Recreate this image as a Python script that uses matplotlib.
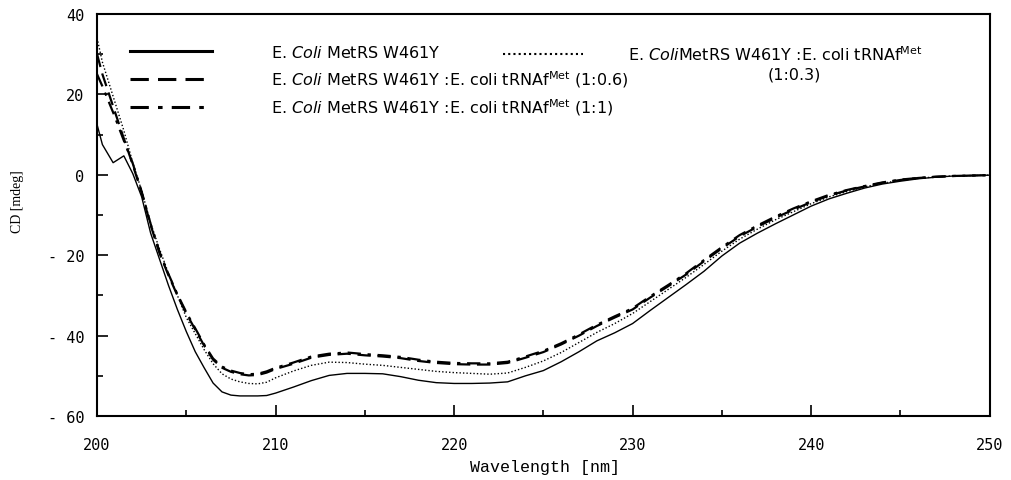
import matplotlib
matplotlib.use("Agg")
import matplotlib.pyplot as plt
from matplotlib.ticker import MultipleLocator

plt.rcParams['mathtext.fontset'] = 'dejavusans'

# wavelength grid (nm)
wl = [200, 200.3, 200.9, 201.5, 202, 202.5, 203, 203.5, 204, 204.5, 205, 205.5, 206, 206.5,
      207, 207.5, 208, 208.5, 209, 209.5, 210, 211, 212, 213, 214, 215, 216, 217, 218, 219,
      220, 221, 222, 223, 224, 225, 226, 227, 228, 229, 230, 231, 232, 233, 234, 235, 236,
      237, 238, 239, 240, 241, 242, 243, 244, 245, 246, 247, 248, 249, 250]

# E. coli MetRS W461Y alone
cd_enzyme = [12.5, 7.5, 3.0, 4.7, 0.3, -5.5, -14.5, -21, -27.5, -33.5, -39, -44, -48, -51.8,
             -54, -54.8, -55, -55, -55, -54.9, -54.3, -52.8, -51.2, -49.9, -49.4, -49.4, -49.5,
             -50.2, -51.1, -51.7, -51.9, -51.9, -51.8, -51.5, -50, -48.7, -46.5, -44, -41.3,
             -39.3, -37, -33.7, -30.5, -27.3, -24, -20.2, -17, -14.5, -12.2, -10, -7.8, -6,
             -4.6, -3.3, -2.3, -1.6, -1.0, -0.6, -0.3, -0.2, -0.1]

# 1:0.3
cd_03 = [34, 28, 19.5, 11, 3, -4, -12, -18.5, -24.5, -30, -35.5, -39.5, -43.5, -47,
         -49.5, -50.8, -51.5, -51.9, -52, -51.6, -50.5, -48.8, -47.4, -46.6, -46.7, -47.1, -47.4,
         -47.9, -48.4, -48.9, -49.2, -49.4, -49.6, -49.3, -47.9, -46.3, -44.2, -41.7, -39.2,
         -37, -34.5, -31.5, -28.5, -25.5, -22.3, -19, -16, -13.5, -11.2, -9.2, -7.2, -5.5,
         -4.2, -3.0, -2.1, -1.4, -0.9, -0.5, -0.3, -0.2, -0.1]

# 1:0.6
cd_06 = [30, 25, 17, 9, 2.5, -4.5, -12.5, -19.5, -25, -30, -34.5, -38.5, -42.5, -46,
         -48, -49, -49.6, -49.9, -49.8, -49.2, -48.3, -47, -45.5, -44.8, -44.5, -44.9, -45.2,
         -45.6, -46.3, -46.8, -47.1, -47.2, -47.2, -46.8, -45.5, -44.1, -42.2, -40, -37.6,
         -35.5, -33.5, -30.5, -27.7, -24.8, -21.5, -18.3, -15.3, -12.9, -10.7, -8.7, -6.8, -5.2,
         -3.9, -2.9, -2.0, -1.3, -0.8, -0.5, -0.3, -0.2, -0.1]

# 1:1
cd_1 = [25, 22, 15.5, 8.5, 2.8, -4.2, -12.2, -19.2, -24.7, -29.7, -34.2, -38.2, -42.2, -45.7,
        -47.7, -48.7, -49.3, -49.6, -49.5, -48.9, -48.0, -46.7, -45.2, -44.5, -44.2, -44.6, -44.9,
        -45.3, -46.0, -46.5, -46.8, -46.9, -46.9, -46.5, -45.2, -43.8, -41.9, -39.7, -37.3,
        -35.2, -33.2, -30.2, -27.4, -24.5, -21.2, -18.0, -15.0, -12.6, -10.4, -8.4, -6.6, -5.0,
        -3.8, -2.8, -1.9, -1.2, -0.8, -0.5, -0.3, -0.2, -0.1]

xticks = [200, 210, 220, 230, 240, 250]
xlabels = ['200', '210', '220', '230', '240', '250']
yticks = [-60, -40, -20, 0, 20, 40]
ylabels = ['- 60', '- 40', '- 20', '0', '20', '40']

lab_enzyme = r'E. $\it{Coli}$ MetRS W461Y'
lab_03 = r'E. $\it{Coli}$MetRS W461Y :E. coli tRNAf$^{\rm Met}$'
lab_06 = r'E. $\it{Coli}$ MetRS W461Y :E. coli tRNAf$^{\rm Met}$ (1:0.6)'
lab_1 = r'E. $\it{Coli}$ MetRS W461Y :E. coli tRNAf$^{\rm Met}$ (1:1)'

fig = plt.figure(figsize=(10.12, 4.81), dpi=100)
ax = fig.add_axes([0.0959, 0.133, 0.882, 0.836])

l_enz, = ax.plot(wl, cd_enzyme, color='black', lw=1.0, linestyle='-')
l_03, = ax.plot(wl, cd_03, color='black', lw=1.0, linestyle=(0, (1, 1.5)))
l_06, = ax.plot(wl, cd_06, color='black', lw=1.6, linestyle=(0, (6, 3)))
l_1, = ax.plot(wl, cd_1, color='black', lw=1.6, linestyle=(0, (6, 3, 1.5, 3)))

ax.set_xlim(200, 250)
ax.set_ylim(-60, 40)

ax.set_xticks(xticks)
ax.set_xticklabels(xlabels, family='DejaVu Sans Mono', fontsize=11)
ax.set_yticks(yticks)
ax.set_yticklabels(ylabels, family='DejaVu Sans Mono', fontsize=11)
ax.xaxis.set_minor_locator(MultipleLocator(5))
ax.yaxis.set_minor_locator(MultipleLocator(10))
ax.tick_params(which='major', direction='in', length=8, width=1.2)
ax.tick_params(which='minor', direction='in', length=4, width=1.2)
ax.tick_params(axis='x', which='major', pad=15)
ax.tick_params(axis='y', which='major', pad=9)
for s in ax.spines.values():
    s.set_linewidth(1.5)

ax.set_xlabel('Wavelength [nm]', family='Liberation Mono', fontsize=12)
ax.xaxis.set_label_coords(0.502, -0.108)
ax.set_ylabel('CD [mdeg]', family='Liberation Serif', fontsize=10)
ax.yaxis.set_label_coords(-0.082, 0.535)

fs = 11.5
leg1 = ax.legend([l_enz, l_06, l_1], [lab_enzyme, lab_06, lab_1], loc='upper left',
                 bbox_to_anchor=(0.037, 0.925), frameon=False,
                 handlelength=5.1, handletextpad=3.75, labelspacing=0.5,
                 borderpad=0, borderaxespad=0, prop={'family': 'DejaVu Sans', 'size': fs})
for ln in leg1.get_lines():
    ln.set_linewidth(2.2)
ax.add_artist(leg1)
leg2 = ax.legend([l_03], [lab_03], loc='upper left', bbox_to_anchor=(0.455, 0.925),
                 frameon=False, handlelength=5.0, handletextpad=2.8, borderpad=0,
                 borderaxespad=0, prop={'family': 'DejaVu Sans', 'size': fs})
for ln in leg2.get_lines():
    ln.set_linewidth(1.5)
ax.text(0.7816, 0.851, '(1:0.3)', transform=ax.transAxes, ha='center', va='center',
        family='DejaVu Sans', fontsize=fs)

fig.savefig('out.png', dpi=100)
